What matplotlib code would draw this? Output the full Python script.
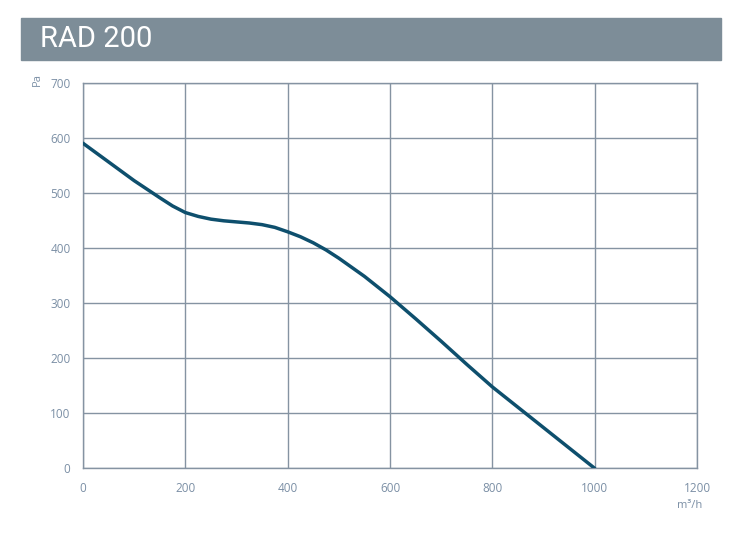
import matplotlib.pyplot as plt
from matplotlib.patches import Rectangle

# fan curve
flow = [0, 50, 100, 150, 175, 200, 225, 250, 275, 300, 325, 350, 375, 400,
        425, 450, 475, 500, 550, 600, 650, 700, 750, 800, 850, 900, 950, 1000]
pressure = [591, 557, 523, 492, 477, 465, 458, 453, 450, 448, 446, 443, 438, 430,
            421, 410, 397, 382, 349, 312, 272, 231, 189, 148, 111, 74, 37, 0]
x_ticks = [0, 200, 400, 600, 800, 1000, 1200]
y_ticks = [0, 100, 200, 300, 400, 500, 600, 700]

grid_c = '#8593a2'
label_c = '#7b8fa5'

fig = plt.figure(figsize=(7.41, 5.34), dpi=100)

# title banner
W, H = 741, 534
fig.patches.append(Rectangle((21 / W, 1 - 60 / H), 700 / W, 42 / H,
                             transform=fig.transFigure, color='#7d8d98', zorder=0))
fig.text(40 / W, 1 - 39 / H, 'RAD 200', color='white', fontsize=21,
         family='Roboto', va='center', ha='left')

ax = fig.add_axes([83 / W, 1 - 468.3 / H, 614 / W, 385 / H])
ax.plot(flow, pressure, color='#0e4f6d', linewidth=2.5, solid_capstyle='round', zorder=3)

ax.set_xlim(0, 1200)
ax.set_ylim(0, 700)
ax.set_xticks(x_ticks)
ax.set_yticks(y_ticks)
ax.grid(True, color=grid_c, linewidth=1)
ax.tick_params(length=0, labelsize=8.5, colors=label_c)
ax.tick_params(axis='y', pad=9)
ax.tick_params(axis='x', pad=10)
for lab in ax.get_xticklabels() + ax.get_yticklabels():
    lab.set_family('Open Sans')
for s in ax.spines.values():
    s.set_color(grid_c)
    s.set_linewidth(1)

fig.text(690 / W, 1 - 506 / H, 'm³/h', color=label_c, fontsize=8, family='Open Sans',
         ha='center', va='center')
fig.text(37 / W, 1 - 79 / H, 'Pa', color=label_c, fontsize=8, family='Open Sans',
         rotation=90, ha='center', va='center')

fig.savefig('out.png', dpi=100)
